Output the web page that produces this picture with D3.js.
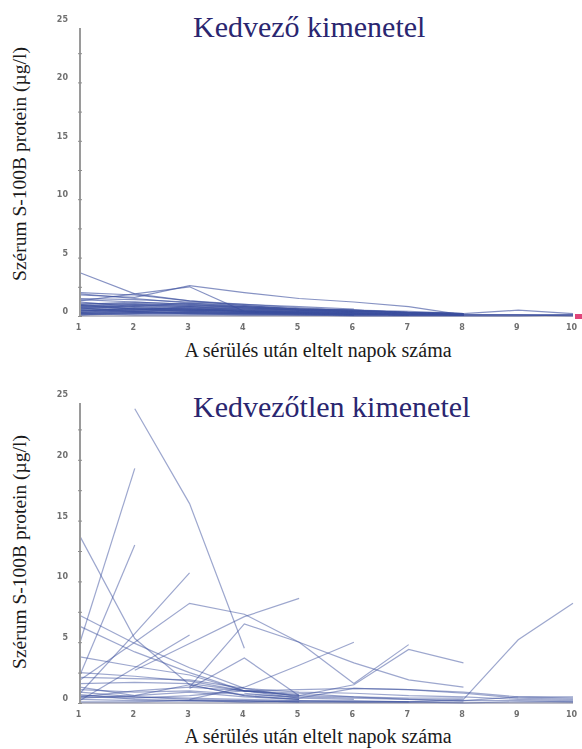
<!DOCTYPE html>
<html>
<head>
<meta charset="utf-8">
<script src="https://cdn.jsdelivr.net/npm/d3@7"></script>
<style>
  html, body { margin: 0; padding: 0; background: #fff; }
  svg { display: block; }
  .serif { font-family: "Liberation Serif", "DejaVu Serif", "Times New Roman", serif; }
</style>
</head>
<body>
<svg id="chart" width="582" height="749"></svg>
<script>
// Days after injury (x) and value ticks (y)
const days = [1, 2, 3, 4, 5, 6, 7, 8, 9, 10];
const valueTicks = [0, 5, 10, 15, 20, 25];
const minorTicks = [0, 2.5, 5, 7.5, 10, 12.5, 15, 17.5, 20, 22.5];

const panelTitles = ["Kedvező kimenetel", "Kedvezőtlen kimenetel"];
const yTitle = "Szérum S-100B protein (µg/l)";
const xTitle = "A sérülés után eltelt napok száma";

// Serum S-100B per patient, day 1..10 (null = not measured) — favourable outcome
const favorable = [
  [3.7, 1.9, 1.3, 0.9, 0.6, 0.4, 0.3, 0.1],
  [1.8, 1.6, 2.6, 2.0, 1.5, 1.2, 0.8, 0.1, 0.1, 0.0],
  [1.3, 1.9, 2.5, 0.4, 0.3, 0.2, 0.1],
  [2.0, 1.8, 1.3, 1.0, 0.7, 0.5, 0.3, 0.2, 0.5, 0.2],
  [1.4, 1.2, 1.0, 0.8, 0.5, 0.4, 0.3, 0.1],
  [1.1, 1.0, 0.9, 0.8, 0.6, 0.5, 0.4, 0.2],
  [1.0, 1.2, 1.0, 0.7, 0.5, 0.4, 0.3],
  [0.9, 0.8, 1.1, 0.9, 0.6, 0.5, 0.3, 0.1],
  [0.8, 0.7, 0.6, 0.5, 0.4, 0.3, 0.2, 0.1, 0.1, 0.1],
  [0.7, 0.9, 0.7, 0.6, 0.4, 0.3],
  [0.6, 0.5, 0.8, 0.6, 0.5, 0.3, 0.2, 0.1],
  [0.5, 0.6, 0.5, 0.4, 0.3, 0.2, 0.2, 0.1],
  [0.4, 0.5, 0.4, 0.3, 0.3, 0.2, 0.1],
  [0.3, 0.4, 0.3, 0.3, 0.2, 0.1, 0.1, 0.1, 0.1, 0.1],
  [0.2, 0.3, 0.2, 0.2, 0.1, 0.1],
  [0.1, 0.2, 0.2, 0.1, 0.1, 0.1, 0.1],
  [0.9, 0.6, 0.4, 0.3, 0.2],
  [1.2, 0.8, 0.6, 0.4, 0.3, 0.2, 0.1],
  [0.6, 0.9, 0.8, 0.5, 0.3, 0.2, 0.2, 0.1],
  [0.3, 0.6, 0.7, 0.4, 0.2, 0.1],
  [0.5, 0.3, 0.3, 0.2, 0.2, 0.2, 0.1, 0.1],
  [0.8, 1.0, 0.8, 0.7, 0.5, 0.4, 0.3, 0.2],
  [0.2, 0.1, 0.1, 0.1, 0.1, 0.0, 0.0, 0.0, 0.0, 0.1],
  [1.5, 1.4, 1.2, 1.0, 0.8, 0.6],
  [1.0, 0.6, 0.5, 0.4, 0.4, 0.3, 0.2, 0.1],
  [0.4, 0.7, 0.6, 0.6, 0.5, 0.4, 0.3, 0.2],
  [0.7, 0.4, 0.3, 0.2, 0.2, 0.1, 0.1, 0.1],
  [0.3, 0.2, 0.4, 0.3, 0.2, 0.1],
  [0.1, 0.3, 0.2, 0.2, 0.2, 0.1, 0.1, 0.1],
  [1.9, 1.5, 1.1, 0.8, 0.6, 0.5, 0.3, 0.2],
  [0.9, 1.1, 0.9, 0.7, 0.6, 0.4, 0.3, 0.2],
  [0.5, 0.4, 0.6, 0.5, 0.4, 0.3, 0.2, 0.1],
  [0.2, 0.4, 0.5, 0.4, 0.3, 0.2, 0.1, 0.1],
  [0.7, 0.6, 0.5, 0.4, 0.3, 0.2, 0.1, 0.1]
];

// Serum S-100B per patient — unfavourable outcome
const unfavorable = [
  [null, 24.2, 16.4, 4.5],
  [5.0, 19.3],
  [13.7, 5.3, 1.5, 0.6, 0.3],
  [2.3, 13.0],
  [0.8, 5.7, 10.7],
  [0.2, 2.9, 5.6],
  [1.9, 5.0, 8.2, 7.3, 5.0, 1.6, 4.8],
  [null, 2.7, 4.9, 7.1, 8.6],
  [null, null, 1.3, 6.5, 5.0, 3.3, 1.9, 1.3],
  [7.2, 4.9, 2.9, 1.2, 0.5],
  [6.3, 4.2, 2.5, 1.0, 0.4, 0.3],
  [3.8, 3.0, 2.3, 1.0, 0.7],
  [null, null, 1.2, 3.7, 0.6],
  [null, null, 0.3, 1.3, 3.1, 5.0],
  [0.5, 0.4, 0.6, 1.0, 0.6, 1.5, 4.4, 3.3],
  [0.3, 0.2, 0.2, 0.1, 0.2, 0.1, 0.1, 0.3, 5.2, 8.2],
  [2.1, 2.0, 1.9, 1.2, 0.9, 0.8, 0.6, 0.5, 0.3, 0.2],
  [1.6, 1.7, 1.6, 1.0, 1.1, 1.2, 1.1, 0.9, 0.5, 0.4],
  [1.1, 0.9, 1.0, 0.7, 0.5, 0.4, 0.3, 0.2, 0.2, 0.1],
  [0.6, 0.5, 0.4, 0.3, 0.2, 0.2, 0.1, 0.1],
  [0.4, 0.6, 0.9, 0.5, 0.3],
  [0.1, 0.1, 0.2, 0.1, 0.1, 0.1, 0.1, 0.0, 0.1, 0.1],
  [2.5, 2.2, 1.8, 1.0, 0.6, 0.5, 0.4, 0.4],
  [0.9, 0.5, 0.3, 0.2, 0.1],
  [1.3, 0.6, 1.5, 0.6, 0.3],
  [0.7, 0.3, 0.2, 0.2, 0.1, 0.1, 0.1],
  [0.5, 1.0, 1.3, 1.0, 0.8, 0.5, 0.3, 0.2, 0.5, 0.5],
  [null, null, null, 0.8, 0.4, 1.2, 1.1, 0.8, 0.4, 0.3]
];

const svg = d3.select("#chart");

const defs = svg.append("defs");
defs.append("filter").attr("id", "soft")
  .attr("x", "-20%").attr("y", "-20%").attr("width", "140%").attr("height", "140%")
  .append("feGaussianBlur").attr("stdDeviation", 0.45);

const panels = [
  { series: favorable,   title: panelTitles[0], y0: 316, y25: 24,  axisTop: 28,  titleY: 37,  xTitleY: 357, yTitleCy: 164, opacity: 0.62 },
  { series: unfavorable, title: panelTitles[1], y0: 703, y25: 399, axisTop: 403, titleY: 417, xTitleY: 743, yTitleCy: 552, opacity: 0.5 }
];

const x = d3.scaleLinear().domain([1, 10]).range([80, 573]);

panels.forEach(p => {
  const g = svg.append("g");
  const y = d3.scaleLinear().domain([0, 25]).range([p.y0, p.y25]);

  // horizontal baseline
  g.append("line")
    .attr("x1", x(1)).attr("x2", x(10))
    .attr("y1", y(0)).attr("y2", y(0))
    .attr("stroke", "#a9a9b4").attr("stroke-width", 1.5);

  // patient curves
  const line = d3.line()
    .defined(d => d.v != null)
    .x(d => x(d.day))
    .y(d => y(d.v));

  g.append("g").selectAll("path")
    .data(p.series)
    .join("path")
    .attr("d", s => line(s.map((v, i) => ({ day: days[i], v: v }))))
    .attr("fill", "none")
    .attr("stroke", "#3c4f9e")
    .attr("stroke-opacity", p.opacity)
    .attr("stroke-width", 1.2);

  // vertical axis line
  g.append("line")
    .attr("x1", x(1)).attr("x2", x(1))
    .attr("y1", p.axisTop).attr("y2", y(0) + 1)
    .attr("stroke", "#9a9a9a").attr("stroke-width", 2);

  // minor tick marks every 2.5
  const minor = g.append("g")
    .attr("transform", `translate(${x(1) + 2},0)`)
    .call(d3.axisLeft(y).tickValues(minorTicks).tickSize(4).tickFormat(""));
  minor.select(".domain").remove();
  minor.selectAll(".tick line").attr("stroke", "#8e8e8e").attr("stroke-width", 1);

  // value labels
  const yAx = g.append("g")
    .attr("transform", `translate(${x(1)},-5)`)
    .attr("filter", "url(#soft)")
    .call(d3.axisLeft(y).tickValues(valueTicks).tickSize(0).tickPadding(12));
  yAx.select(".domain").remove();
  yAx.selectAll("text")
    .attr("font-family", "DejaVu Sans, sans-serif")
    .attr("font-size", 8)
    .attr("font-weight", "bold")
    .attr("fill", "#6f6f6f");

  // day labels
  const xAx = g.append("g")
    .attr("transform", `translate(-2,${y(0) + 6})`)
    .attr("filter", "url(#soft)")
    .call(d3.axisBottom(x).tickValues(days).tickSize(0).tickPadding(2).tickFormat(d3.format("d")));
  xAx.select(".domain").remove();
  xAx.selectAll("text")
    .attr("font-family", "DejaVu Sans, sans-serif")
    .attr("font-size", 8)
    .attr("font-weight", "bold")
    .attr("fill", "#6f6f6f");

  // panel title
  g.append("text")
    .attr("class", "serif")
    .attr("x", 193).attr("y", p.titleY)
    .attr("font-size", 30)
    .attr("fill", "#2a2670")
    .text(p.title);

  // axis titles
  g.append("text")
    .attr("class", "serif")
    .attr("x", 318).attr("y", p.xTitleY)
    .attr("text-anchor", "middle")
    .attr("font-size", 20)
    .attr("fill", "#1a1a1a")
    .text(xTitle);

  g.append("text")
    .attr("class", "serif")
    .attr("transform", `translate(26,${p.yTitleCy}) rotate(-90)`)
    .attr("text-anchor", "middle")
    .attr("font-size", 19.5)
    .attr("fill", "#1a1a1a")
    .text(yTitle);
});

// small marker at the right end of the first panel's baseline
svg.append("rect")
  .attr("x", x(10) + 2).attr("y", 314)
  .attr("width", 8).attr("height", 5)
  .attr("fill", "#e0457a");
</script>
</body>
</html>
